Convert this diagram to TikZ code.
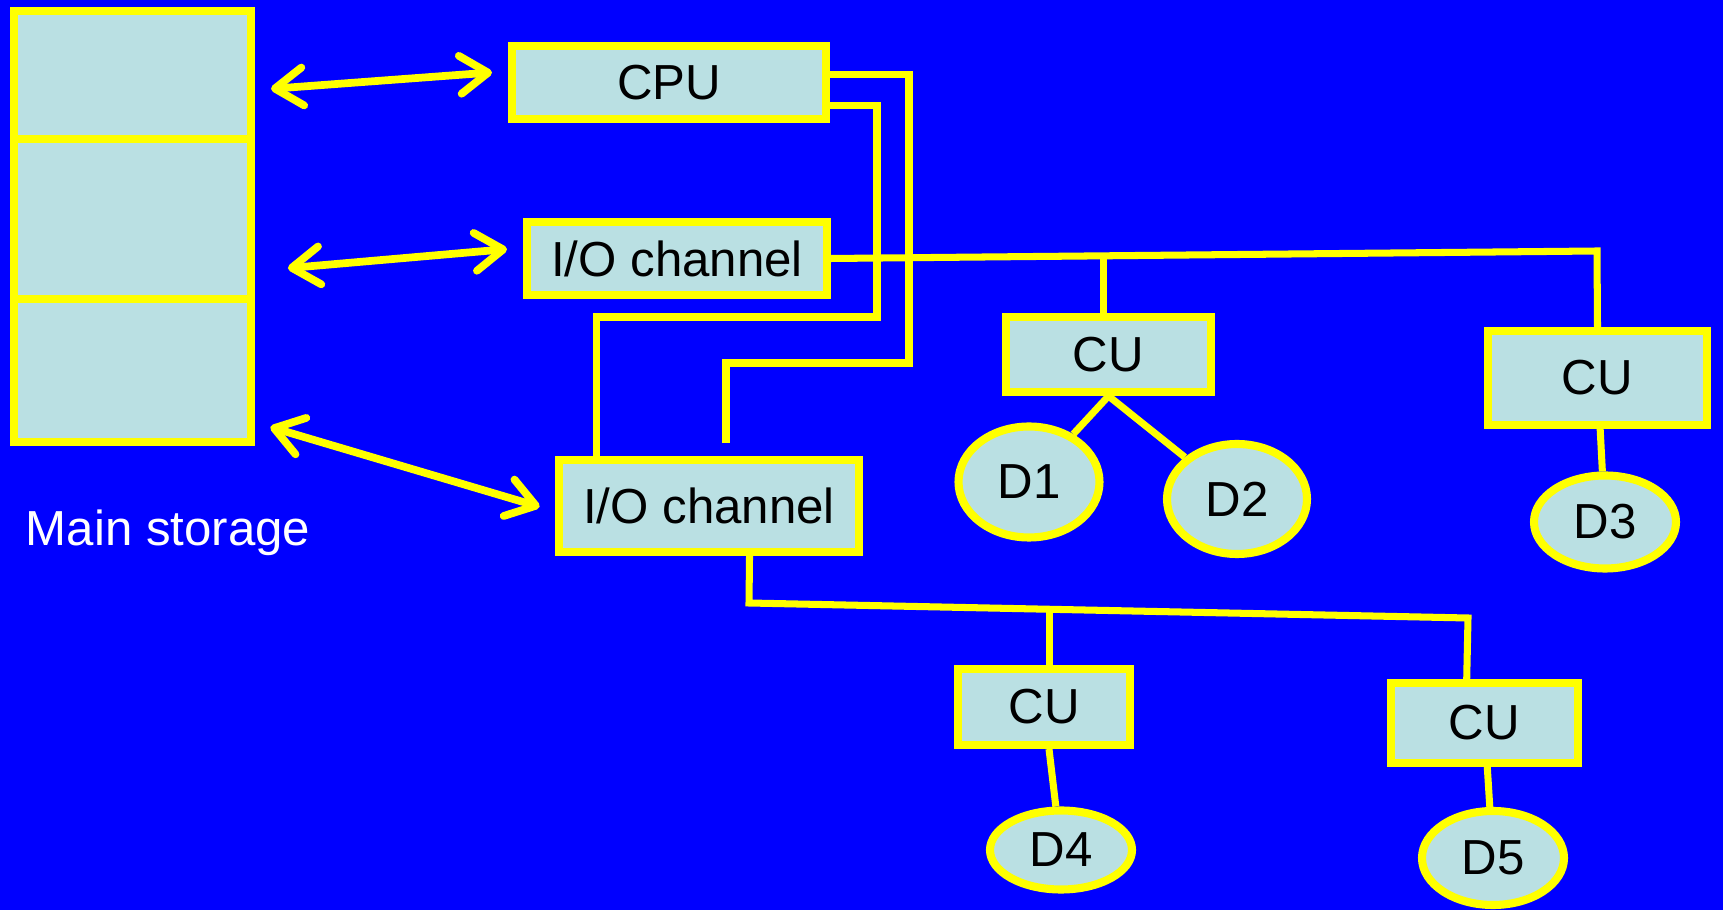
\documentclass[tikz,border=0pt]{standalone}
\usepackage{fontspec}
\setmainfont{Liberation Sans}
\usetikzlibrary{arrows.meta,shapes.geometric}
\definecolor{slideblue}{RGB}{0,0,255}
\definecolor{wire}{RGB}{255,255,0}
\definecolor{boxfill}{RGB}{186,224,227}

\begin{document}
\begin{tikzpicture}[
  font=\fontsize{14}{16}\selectfont,
  hwbox/.style={draw=wire, fill=boxfill, line width=2.3pt, inner sep=0pt, text=black},
  disk/.style={hwbox, ellipse},
  bus/.style={draw=wire, line width=2pt},
  link/.style={draw=wire, line width=2.2pt,
    {Straight Barb[length=0.28cm,width=0.38cm,round]}-{Straight Barb[length=0.28cm,width=0.38cm,round]},
    shorten <=0.16cm, shorten >=0.16cm}
]
\fill[slideblue] (0,0) rectangle (17.23,-9.10);
\useasboundingbox (0,0) rectangle (17.23,-9.10);

\node[hwbox, minimum width=2.37cm, minimum height=1.28cm] (m1) at (1.325,-0.75) {};
\node[hwbox, minimum width=2.37cm, minimum height=1.60cm] (m2) at (1.325,-2.19) {};
\node[hwbox, minimum width=2.37cm, minimum height=1.43cm] (m3) at (1.325,-3.705) {};
\node[text=white] (mlabel) at (1.68,-5.33) {Main storage};

\node[hwbox, minimum width=3.14cm, minimum height=0.73cm] (cpu) at (6.69,-0.825) {CPU};
\node[hwbox, minimum width=3.00cm, minimum height=0.73cm] (io1) at (6.77,-2.585) {I/O channel};
\node[hwbox, minimum width=3.00cm, minimum height=0.92cm] (io2) at (7.09,-5.06) {I/O channel};

\node[hwbox, minimum width=2.05cm, minimum height=0.75cm] (cu1) at (11.085,-3.545) {CU};
\node[hwbox, minimum width=2.19cm, minimum height=0.94cm] (cu2) at (15.975,-3.78) {CU};
\node[hwbox, minimum width=1.72cm, minimum height=0.76cm] (cu3) at (10.44,-7.07) {CU};
\node[hwbox, minimum width=1.87cm, minimum height=0.80cm] (cu4) at (14.845,-7.23) {CU};

\node[disk, minimum width=1.41cm, minimum height=1.11cm] (d1) at (10.29,-4.82) {D1};
\node[disk, minimum width=1.40cm, minimum height=1.10cm] (d2) at (12.37,-4.99) {D2};
\node[disk, minimum width=1.42cm, minimum height=0.93cm] (d3) at (16.05,-5.22) {\raisebox{-0.06cm}{D3}};
\node[disk, minimum width=1.42cm, minimum height=0.79cm] (d4) at (10.61,-8.50) {\raisebox{-0.12cm}{D4}};
\node[disk, minimum width=1.42cm, minimum height=0.94cm] (d5) at (14.93,-8.58) {\raisebox{-0.07cm}{D5}};

\draw[link] (m1.-7) -- (cpu.176);
\draw[link, shorten <=0.33cm] (m2.-23) -- (io1.176);
\draw[link] (m3.-23) -- (io2.182);

\coordinate (tapA) at (7.26,-4.43);
\draw[bus] (cpu.3) -| (9.09,-3.63) -| (tapA);
\draw[bus] (cpu.-8) -| (8.77,-3.17) -| (io2.156);

\draw[bus] (io1.east) -- (15.97,-2.51) -- (cu2.north);
\draw[bus] (cu1.97) -- (cu1.97 |- io1.east);
\draw[bus] (cu1.south) -- (d1);
\draw[bus] (cu1.south) -- (d2);
\draw[bus] (cu2) -- (d3);

\draw[bus] (io2.-51) -- (7.49,-6.03) -- (14.68,-6.18) -- (cu4.112);
\draw[bus] (cu3.83) -- ++(0,0.58);
\draw[bus] (cu3) -- (d4);
\draw[bus] (cu4) -- (d5);
\end{tikzpicture}
\end{document}
